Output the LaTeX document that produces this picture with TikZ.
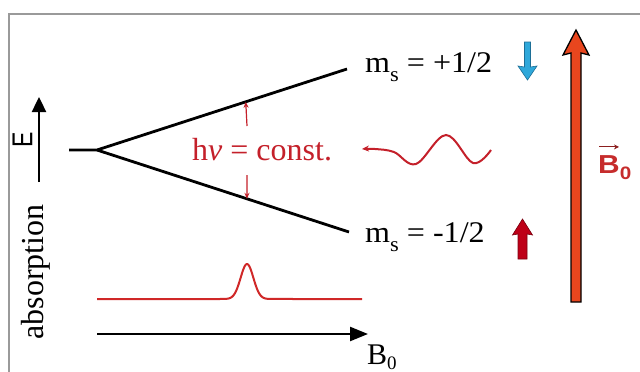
\documentclass[tikz,border=0pt]{standalone}
\usepackage{fontspec}
\setmainfont{Liberation Serif}
\newfontfamily\sansf{Liberation Sans}
\usetikzlibrary{arrows.meta,calc}
\definecolor{framegray}{HTML}{9A9A9A}
\definecolor{wavered}{HTML}{C4202A}
\definecolor{peakred}{HTML}{D02828}
\definecolor{spinblue}{HTML}{2FA8DA}
\definecolor{spinblueedge}{HTML}{1C6E96}
\definecolor{spinred}{HTML}{BE0018}
\definecolor{spinrededge}{HTML}{7A0010}
\definecolor{fieldred}{HTML}{E8461E}
\definecolor{labelred}{HTML}{C62C2C}
\newcommand{\hstretch}[2]{\scalebox{#1}[1]{#2}}
\begin{document}
\begin{tikzpicture}[x=1pt,y=-1pt,
  txt/.style={inner sep=0pt, anchor=base west},
  levelline/.style={line width=2.8pt, black},
  smallred/.style={wavered, line width=1.2pt, -{Stealth[length=6pt,width=5pt]}},
  axisarrow/.style={line width=2.4pt, black}]
\useasboundingbox (0,0) rectangle (640,372);
% frame
\draw[framegray, line width=1.4pt] (9,372) -- (9,14) -- (640,14);
% energy axis
\coordinate (E0) at (39,182);
\coordinate (E1) at (39,97);
\draw[axisarrow, -{Triangle[length=15pt,width=14pt]}] (E0) -- (E1);
\node[rotate=90, inner sep=0pt, font=\sansf\fontsize{23}{23}\selectfont] (Elab) at (22.5,140) {\scalebox{1}[1.25]{E}};
% absorption label
\node[rotate=90, inner sep=0pt, font=\fontsize{32}{32}\selectfont] (abs) at (36,272) {absorption};
% levels
\coordinate (L0) at (69,150);
\coordinate (S) at (97,150);
\coordinate (U) at (347,69);
\coordinate (D) at (349,232);
\draw[levelline] (L0) -- (S) -- (U);
\draw[levelline] (S) -- (D);
% h nu arrows
\coordinate (uhit) at ($(S)!0.595!(U)$);
\coordinate (dhit) at ($(S)!0.595!(D)$);
\coordinate (utail) at (247,126);
\coordinate (dtail) at (247,175);
\draw[smallred] (utail) -- (uhit);
\draw[smallred] (dtail) -- (dhit);
\node[txt, text=wavered, font=\fontsize{32}{32}\selectfont] (hnu) at (192,160) {h\textit{ν} = const.};
% level labels
\node[txt, font=\fontsize{30}{30}\selectfont] (msup) at (365,72) {\hstretch{1.07}{m\raisebox{-9pt}{\fontsize{21}{21}\selectfont s} = +1/2}};
\node[txt, font=\fontsize{30}{30}\selectfont] (msdn) at (365,242) {\hstretch{1.07}{m\raisebox{-9pt}{\fontsize{21}{21}\selectfont s} = -1/2}};
% spin arrows
\draw[spinblueedge, fill=spinblue, line width=0.6pt, line join=miter]
  (524.5,42) -- (530.5,42) -- (530.5,67) -- (537,66) -- (527.5,80) -- (518,66) -- (524.5,67) -- cycle;
\draw[spinrededge, fill=spinred, line width=0.6pt, line join=miter]
  (518,259) -- (527,259) -- (527,234) -- (532.5,235) -- (522.5,219) -- (512.5,235) -- (518,234) -- cycle;
% wave
\coordinate (wend) at (491,150);
\coordinate (wtip) at (362,149);
\draw[wavered, line width=2pt, -{Stealth[length=7pt,width=6pt]}]
  plot[smooth, tension=0.6] coordinates {(491,150) (473,163) (446,135) (416,164) (394,152) (375,149) (362,149)};
% field arrow
\draw[black, fill=fieldred, line width=1.3pt, line join=miter]
  (571,302) -- (571,53) -- (563,55) -- (576,30) -- (589,55) -- (581,53) -- (581,302) -- cycle;
\node[txt, text=labelred, font=\sansf\bfseries\fontsize{26}{26}\selectfont] (Bvec) at (598,173) {\hstretch{1.15}{B\raisebox{-6pt}{\fontsize{18}{18}\selectfont 0}}};
\coordinate (va) at ([xshift=1pt,yshift=8pt]Bvec.north west);
\coordinate (vb) at ([xshift=21pt,yshift=8pt]Bvec.north west);
\draw[labelred!70!black, line width=1.1pt, -{Stealth[length=5pt,width=5pt]}] (va) -- (vb);
% absorption line
\draw[peakred, line width=2pt, line join=round]
  (97,299) -- (220,299) -- plot[domain=220:274, samples=90] (\x,{299-35*exp(-((\x-247)/9)^2)}) -- (362,299);
% field axis
\coordinate (A0) at (97,334);
\coordinate (A1) at (368,334);
\draw[axisarrow, -{Triangle[length=18pt,width=14pt]}] (A0) -- (A1);
\node[txt, font=\fontsize{30}{30}\selectfont] (B0) at (367,364) {B\raisebox{-5pt}{\fontsize{19}{19}\selectfont 0}};
\end{tikzpicture}
\end{document}
